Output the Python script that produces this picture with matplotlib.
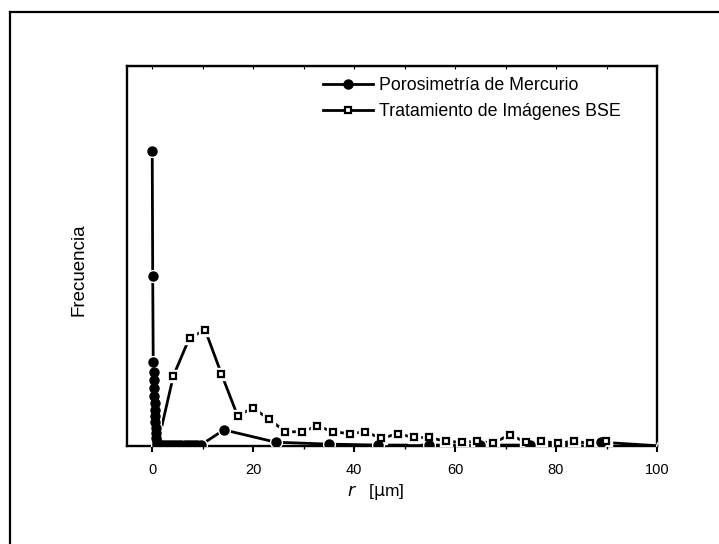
import numpy as np
import matplotlib.pyplot as plt
from matplotlib.lines import Line2D

plt.rcParams['font.family'] = ['Liberation Sans', 'DejaVu Sans']

# Porosimetria de Mercurio: r (um) and frequency
merc_r = [0.0, 0.1, 0.2, 0.3, 0.35, 0.4, 0.45, 0.5, 0.55, 0.6, 0.65, 0.7,
          0.75, 0.8, 0.9, 1.0, 1.6, 2.2, 2.8, 3.4, 4.0, 4.6, 5.2, 5.8, 6.4,
          7.0, 7.6, 8.2, 8.8, 9.6, 14.2, 24.5, 35.0, 44.8, 54.8, 65.0, 74.8,
          89.0, 101.0]
merc_f = [0.311, 0.179, 0.088, 0.078, 0.069, 0.061, 0.053, 0.045, 0.038,
          0.032, 0.025, 0.019, 0.014, 0.008, 0.004, 0.001, 0.001, 0.001,
          0.001, 0.001, 0.001, 0.001, 0.001, 0.001, 0.001, 0.001, 0.001,
          0.001, 0.001, 0.001, 0.017, 0.004, 0.002, 0.001, 0.001, 0.001,
          0.001, 0.004, 0.0]

# Tratamiento de Imagenes BSE
bse_r = [1.0, 4.2, 7.4, 10.5, 13.7, 16.9, 20.0, 23.2, 26.4, 29.6, 32.7, 35.9,
         39.1, 42.2, 45.4, 48.6, 51.8, 54.9, 58.1, 61.3, 64.4, 67.6, 70.8,
         74.0, 77.1, 80.3, 83.5, 86.7, 89.8]
bse_f = [0.0, 0.074, 0.114, 0.122, 0.076, 0.032, 0.040, 0.028, 0.015, 0.015,
         0.021, 0.015, 0.013, 0.015, 0.008, 0.013, 0.009, 0.009, 0.005, 0.004,
         0.005, 0.003, 0.012, 0.004, 0.005, 0.003, 0.005, 0.003, 0.005]

fig = plt.figure(figsize=(7.19, 5.44), dpi=100)
ax = fig.add_axes([0.1766, 0.1801, 0.7372, 0.6985])

# lines with a small white gap around each marker
ax.plot(merc_r, merc_f, '-', color='black', lw=2.0, zorder=2)
ax.plot(merc_r, merc_f, 'o', ms=8.5, mfc='white', mec='white', zorder=3)
ax.plot(merc_r, merc_f, 'o', ms=6.5, color='black', zorder=4)

ax.plot(bse_r, bse_f, '-', color='black', lw=2.0, zorder=2)
ax.plot(bse_r[1:], bse_f[1:], 's', ms=8, mfc='white', mec='white', zorder=3)
ax.plot(bse_r[1:], bse_f[1:], 's', ms=5, mfc='white', mec='black', mew=1.6, zorder=4)

ax.set_xlim(-5, 100)
ax.set_ylim(0, 0.40)
ax.set_xticks(np.arange(0, 101, 20))
ax.set_xticks(np.arange(10, 100, 20), minor=True)
ax.set_yticks([])
ax.tick_params(axis='x', which='major', direction='out', length=4, width=1.5,
               labelsize=10.5, pad=8)
ax.tick_params(axis='x', which='minor', direction='out', length=2, width=1)
for s in ax.spines.values():
    s.set_linewidth(1.7)

top = ax.secondary_xaxis('top')
top.set_xticks(np.arange(0, 101, 10))
top.set_xticklabels([])
top.tick_params(direction='in', length=2, width=0.8)

ax.set_xlabel(r'$r$   [$\mathrm{\mu}$m]', fontsize=12.5)
ax.xaxis.set_label_coords(0.47, -0.095)
ax.set_ylabel('Frecuencia', fontsize=13.5)
ax.yaxis.set_label_coords(-0.075, 0.465)

handles = [
    Line2D([], [], color='black', lw=2.0, marker='o', ms=6.5),
    Line2D([], [], color='black', lw=2.0, marker='s', ms=5, mfc='white', mew=1.6),
]
ax.legend(handles, ['Porosimetría de Mercurio', 'Tratamiento de Imágenes BSE'],
          loc='upper left', bbox_to_anchor=(0.37, 0.971), frameon=False,
          fontsize=12.8, handlelength=2.8, handletextpad=0.34,
          labelspacing=0.52, borderpad=0, borderaxespad=0)

# outer frame (partly cut off by the image edge)
fig.add_artist(Line2D([0.0139, 0.0139], [0.0, 0.978], color='black', lw=1.6,
                      transform=fig.transFigure))
fig.add_artist(Line2D([0.0139, 1.0], [0.978, 0.978], color='black', lw=1.6,
                      transform=fig.transFigure))

fig.savefig('out.png', dpi=100)
